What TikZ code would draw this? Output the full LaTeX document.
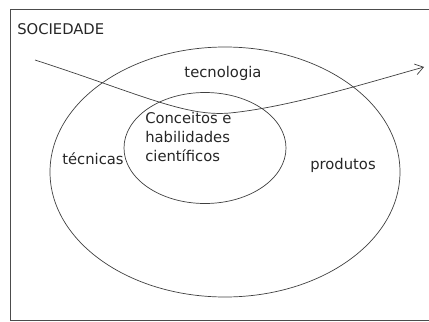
\documentclass[tikz,border=0pt]{standalone}
\usepackage{fontspec}
\setmainfont{DejaVu Sans}
\usetikzlibrary{arrows.meta,shapes.geometric}

\newlength{\du}
\setlength{\du}{0.025cm}

\tikzset{
  rim/.style={draw=black!70, line width=0.5pt},
  oval/.style={ellipse, draw=black!75, line width=0.5pt, inner sep=0pt},
  word/.style={font=\fontsize{10.5}{13.5}\selectfont, text=black!85, inner sep=0pt},
  flow/.style={draw=black!75, line width=0.5pt, -{Straight Barb[length=5.7pt,width=7.8pt]}}
}

\begin{document}
\begin{tikzpicture}[x=\du,y=-\du]
\useasboundingbox (0,0) rectangle (429,322);
% frame of the society
\draw[rim] (429,9)--(10,9)--(10,320)--(429,320);
\node[word, anchor=west] (sociedade) at (17,29){SOCIEDADE};
% the two ovals
\node[oval, minimum width=350\du, minimum height=250\du] (outer) at (225,172){};
\node[oval, minimum width=162\du, minimum height=111\du] (inner) at (205,148){};
% labels
\node[word] (tecnologia) at (223,73){tecnologia};
\node[word] (tecnicas) at (93,159){técnicas};
\node[word] (produtos) at (343,165){produtos};
\node[word, anchor=north west, align=left] (conceitos) at (145,112){Conceitos e\\habilidades\\científicos};
% the arrow across
\coordinate (start) at (35,60);
\coordinate (low) at (230,113);
\coordinate (tip) at (424,67);
\draw[flow] (start) .. controls (140,94) and (185,117) .. (low) .. controls (290,107) and (370,82) .. (tip);
\end{tikzpicture}
\end{document}
